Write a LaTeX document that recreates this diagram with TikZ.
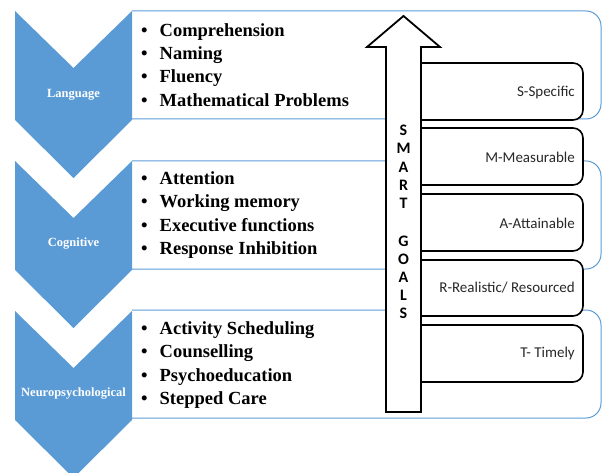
\documentclass[tikz,border=0pt]{standalone}
\usepackage{fontspec}
\setmainfont{Liberation Serif}
\newfontfamily\carl{Carlito}[BoldFont={Carlito Bold}]
\definecolor{chev}{RGB}{91,155,213}
\definecolor{boxline}{RGB}{91,155,213}
\definecolor{smarttxt}{RGB}{40,40,40}
\tikzset{
  chevron/.style={fill=chev, draw=none},
  bluebox/.style={draw=boxline, line width=1pt, rounded corners=15pt},
  smartbox/.style={draw=black, fill=white, line width=1.6pt, rounded corners=10pt},
  goalarrow/.style={draw=black, fill=white, line width=1.8pt, line join=miter},
  chevlabel/.style={text=white, font=\fontsize{12.5}{14}\selectfont\bfseries, inner sep=0pt},
  bullets/.style={anchor=west, align=left, inner sep=0pt, font=\fontsize{18.5}{23.3}\selectfont\bfseries},
  smarttext/.style={anchor=east, inner sep=0pt, text=smarttxt, font=\carl\fontsize{15}{18}\selectfont},
  letter/.style={inner sep=0pt, font=\carl\bfseries\fontsize{16}{18}\selectfont}
}
\newcommand{\bul}{\makebox[18.5pt][l]{•}}
\begin{document}
\begin{tikzpicture}[x=1pt,y=-1pt]
\useasboundingbox (0,0) rectangle (602,473);
\begin{scope}
\clip (0,0) rectangle (602,473);
% blue outlined boxes
\draw[bluebox] (132,11) -- (601,11) -- (601,119) -- (132,119);
\draw[bluebox] (132,161) -- (601,161) -- (601,269) -- (132,269);
\draw[bluebox] (132,310) -- (601,310) -- (601,418) -- (132,418);
% chevrons
\fill[chevron] (15,11) -- (73.5,68) -- (132,11) -- (132,120) -- (73.5,178) -- (15,120) -- cycle;
\fill[chevron] (15,161) -- (73.5,218) -- (132,161) -- (132,270) -- (73.5,328) -- (15,270) -- cycle;
\fill[chevron] (15,311) -- (73.5,368) -- (132,311) -- (132,420) -- (73.5,478) -- (15,420) -- cycle;
\end{scope}
\node[chevlabel] (lang) at (73.5,95) {Language};
\node[chevlabel] (cog) at (73.5,244) {Cognitive};
\node[chevlabel] (neuro) at (73.5,394) {Neuropsychological};
% bullet lists
\node[bullets] (list1) at (141,65) {\bul Comprehension\\\bul Naming\\\bul Fluency\\\bul Mathematical Problems};
\node[bullets] (list2) at (141,215) {\bul Attention\\\bul Working memory\\\bul Executive functions\\\bul Response Inhibition};
\node[bullets] (list3) at (141,365) {\bul Activity Scheduling\\\bul Counselling\\\bul Psychoeducation\\\bul Stepped Care};
% SMART boxes
\draw[smartbox] (421,63) -- (583,63) -- (583,120) -- (421,120);
\draw[smartbox] (421,128) -- (583,128) -- (583,185) -- (421,185);
\draw[smartbox] (421,194) -- (583,194) -- (583,251) -- (421,251);
\draw[smartbox] (421,260) -- (583,260) -- (583,316) -- (421,316);
\draw[smartbox] (421,325) -- (583,325) -- (583,382) -- (421,382);
\node[smarttext] (sS) at (575,93) {S-Specific};
\node[smarttext] (sM) at (575,157) {M-Measurable};
\node[smarttext] (sA) at (575,223) {A-Attainable};
\node[smarttext] (sR) at (575,288) {R-Realistic/ Resourced};
\node[smarttext] (sT) at (575,353) {T- Timely};
% big arrow
\draw[goalarrow] (386,412) -- (386,47) -- (367,47) -- (403.5,16) -- (440,47) -- (421,47) -- (421,412) -- cycle;
\node[letter] (l1) at (403.5,130) {S};
\node[letter] (l2) at (403.5,148) {M};
\node[letter] (l3) at (403.5,167) {A};
\node[letter] (l4) at (403.5,185) {R};
\node[letter] (l5) at (403.5,203) {T};
\node[letter] (l6) at (403.5,241) {G};
\node[letter] (l7) at (403.5,259) {O};
\node[letter] (l8) at (403.5,277) {A};
\node[letter] (l9) at (403.5,295) {L};
\node[letter] (l10) at (403.5,313) {S};
\end{tikzpicture}
\end{document}
